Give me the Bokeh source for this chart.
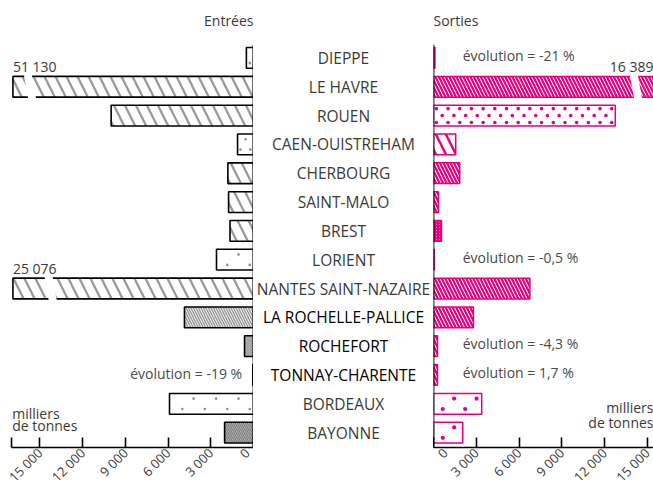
import math
from bokeh.plotting import figure
from bokeh.models import ColumnDataSource, Range1d, FixedTicker
from bokeh.layouts import row
from bokeh.embed import file_html
from bokeh.resources import INLINE
from bokeh.core.properties import value

# ---------------- data ----------------
ports = ["DIEPPE", "LE HAVRE", "ROUEN", "CAEN-OUISTREHAM", "CHERBOURG",
         "SAINT-MALO", "BREST", "LORIENT", "NANTES SAINT-NAZAIRE",
         "LA ROCHELLE-PALLICE", "ROCHEFORT", "TONNAY-CHARENTE",
         "BORDEAUX", "BAYONNE"]
entrees = [500, 51130, 10000, 1120, 1800, 1750, 1650, 2600, 25076,
           4850, 630, 50, 5900, 2030]
sorties = [100, 16389, 12750, 1560, 1840, 350, 560, 50, 6760,
           2800, 280, 280, 3380, 2050]
tick_values = [0, 3000, 6000, 9000, 12000, 15000]
tick_labels = ["0", "3 000", "6 000", "9 000", "12 000", "15 000"]
unit_lines = ["milliers", "de tonnes"]
notes_left = {"TONNAY-CHARENTE": "évolution = -19 %"}
notes_right = {"DIEPPE": "évolution = -21 %",
               "LORIENT": "évolution = -0,5 %",
               "ROCHEFORT": "évolution = -4,3 %",
               "TONNAY-CHARENTE": "évolution = 1,7 %"}
titles = ["Entrées", "Sorties"]
dark_ports = ["LA ROCHELLE-PALLICE", "ROCHEFORT", "TONNAY-CHARENTE"]

# ---------------- styles / layout ----------------
FONT = "Open Sans"
MAGENTA = "#e6007e"
GRAY = "#9a9a9a"
TEXT = "#3a3a3a"
LEFT_MAX = 17000
RIGHT_MAX = 15430
LEFT_DISPLAY_CAP = 16900
N = len(ports)
ys = [N - 1 - i for i in range(N)]
Y_START, Y_END = -0.516, 14.993
BAR_H = 0.72
H = 494
B_BOTTOM = 43

# hatch styles: fill, pattern, scale, weight, hatch colour
STY = {
    "g_wide": ("white", "left_diagonal_line", 22, 2.3, GRAY),
    "g_fine": ("white", "left_diagonal_line", 5, 1.5, GRAY),
    "g_vfine": ("#d8d8d8", "left_diagonal_line", 3, 1.0, "#8a8a8a"),
    "g_dark": ("#c4c4c4", "left_diagonal_line", 4, 1.3, "#808080"),
    "m_mid": ("white", "left_diagonal_line", 7, 2.2, MAGENTA),
    "m_wide": ("white", "left_diagonal_line", 20, 2.4, MAGENTA),
    "m_fine": ("white", "left_diagonal_line", 3, 1.4, MAGENTA),
    "plain": ("white", "blank", 10, 1, GRAY),
}
# dot fills: colour, dot size (px), step (data units), rows of (dy, first x)
DOTS = {
    "g_sparse": ("#8c8c8c", 2.6, 1580, [(0.18, 1050), (-0.18, 260)]),
    "g_mid": ("#8c8c8c", 2.6, 700, [(0.18, 560), (-0.18, 220)]),
    "m_dense": (MAGENTA, 3.6, 820, [(0.24, 200), (0.0, 610), (-0.24, 200)]),
    "m_sparse": (MAGENTA, 4.2, 1570, [(0.18, 1450), (-0.18, 650)]),
}
left_style = ["plain", "g_wide", "g_wide", "plain", "g_wide", "g_wide",
              "g_wide", "plain", "g_wide", "g_fine", "g_vfine", "g_wide",
              "plain", "g_dark"]
left_dots = {"DIEPPE": "g_sparse", "CAEN-OUISTREHAM": "g_mid",
             "LORIENT": "g_sparse", "BORDEAUX": "g_sparse"}
right_style = ["m_mid", "m_mid", "plain", "m_wide", "m_mid", "m_mid",
               "m_fine", "m_mid", "m_mid", "m_mid", "m_mid", "m_mid",
               "plain", "plain"]
right_dots = {"ROUEN": "m_dense", "BORDEAUX": "m_sparse",
              "BAYONNE": "m_sparse"}
# break marks (centre position in data units) for bars exceeding the axis
left_breaks = {"LE HAVRE": 15700, "NANTES SAINT-NAZAIRE": 14250}
right_breaks = {"LE HAVRE": 14200}
BREAK_HALF = 280
BREAK_SLANT = 150
DOT_MARGIN = 150


def fmt(v):
    return f"{v:,}".replace(",", " ")


def add_bars(p, vals, styles, cap, line_color, line_width):
    for key in dict.fromkeys(styles):
        idx = [i for i, s in enumerate(styles) if s == key]
        fill, pat, sc, wt, hc = STY[key]
        src = ColumnDataSource(dict(y=[ys[i] for i in idx],
                                    right=[min(vals[i], cap) for i in idx]))
        p.hbar(y="y", left=0, right="right", height=BAR_H, source=src,
               fill_color=fill, line_color=line_color, line_width=line_width,
               hatch_pattern=pat, hatch_scale=sc, hatch_weight=wt,
               hatch_color=hc)


def add_dots(p, vals, dot_map):
    for port, key in dot_map.items():
        color, size, step, rows = DOTS[key]
        i = ports.index(port)
        xs, yy = [], []
        for dy, x0 in rows:
            x = x0
            while x <= vals[i] - DOT_MARGIN:
                xs.append(x)
                yy.append(ys[i] + dy)
                x += step
        p.scatter(xs, yy, marker="circle", size=size, fill_color=color,
                  line_color=None)


def base_fig(width, xr, yr, mbl, mbr):
    p = figure(width=width, height=H, x_range=xr, y_range=yr,
               output_backend="svg", toolbar_location=None,
               min_border_left=mbl, min_border_right=mbr,
               min_border_top=0, min_border_bottom=B_BOTTOM,
               y_axis_location=None)
    p.outline_line_color = None
    p.xgrid.visible = False
    p.ygrid.visible = False
    p.background_fill_color = "white"
    p.border_fill_color = "white"
    return p


def style_axis(p, ticks, overrides, hidden=False):
    ax = p.xaxis[0]
    ax.ticker = FixedTicker(ticks=ticks)
    ax.major_label_overrides = overrides
    ax.major_label_orientation = math.pi / 4
    ax.major_tick_in = 10
    ax.major_tick_out = 0
    ax.minor_tick_line_color = None
    ax.axis_line_color = None if hidden else "black"
    ax.axis_line_width = 1.6
    ax.major_tick_line_color = None if hidden else "black"
    ax.major_tick_line_width = 1.6
    ax.major_label_text_font = FONT
    ax.major_label_text_font_size = "13px"
    ax.major_label_text_color = TEXT
    ax.major_label_text_alpha = 0 if hidden else 1
    ax.major_label_standoff = 3


def breaks_patches(breaks, direction):
    xs, ysl = [], []
    hh = BAR_H / 2 + 0.06
    for port, c in breaks.items():
        y = ys[ports.index(port)]
        s = BREAK_SLANT * direction
        xs.append([c - BREAK_HALF + s, c + BREAK_HALF + s,
                   c + BREAK_HALF - s, c - BREAK_HALF - s])
        ysl.append([y + hh, y + hh, y - hh, y - hh])
    return xs, ysl


def txt(p, x, y, t, align, baseline, size="14px", color=TEXT):
    p.text(x=x, y=y, text=t, text_align=align, text_baseline=baseline,
           text_font=value(FONT), text_font_size=size, text_color=color)


tick_map = {t: l for t, l in zip(tick_values, tick_labels)}
yr = Range1d(Y_START, Y_END)

# ---------------- left panel (Entrées) ----------------
left = base_fig(253, Range1d(LEFT_MAX, 0), yr, 11, 0)
add_bars(left, entrees, left_style, LEFT_DISPLAY_CAP, "black", 1.6)
add_dots(left, entrees, left_dots)
bx, by = breaks_patches(left_breaks, 1)
left.patches(bx, by, fill_color="white", line_color=None)
left.segment(x0=0, x1=0, y0=Y_START, y1=ys[0] + BAR_H / 2 + 0.1,
             line_color="black", line_width=1.8)
big_l = [(ys[i], fmt(v)) for i, v in enumerate(entrees) if v > LEFT_MAX]
txt(left, LEFT_DISPLAY_CAP, [b[0] + BAR_H / 2 + 0.02 for b in big_l],
    [b[1] for b in big_l], "left", "bottom")
nl = [(ys[ports.index(k)], t) for k, t in notes_left.items()]
txt(left, 800, [a[0] + 0.05 for a in nl], [a[1] for a in nl], "right",
    "middle", color="#4a4a4a")
txt(left, 0, [ys[0] + 0.96], [titles[0]], "right", "bottom")
txt(left, LEFT_MAX - 50, [0.68, 0.26], unit_lines, "left", "middle")
style_axis(left, tick_values + [LEFT_MAX], {**tick_map, LEFT_MAX: ""})

# ---------------- middle (port names) ----------------
mid = figure(width=180, height=H, x_range=Range1d(0, 15000), y_range=yr,
             output_backend="svg", toolbar_location=None,
             min_border_left=0, min_border_right=0, min_border_top=0,
             min_border_bottom=B_BOTTOM, y_axis_location=None)
mid.outline_line_color = None
mid.xgrid.visible = False
mid.ygrid.visible = False
style_axis(mid, tick_values, tick_map, hidden=True)
mid.text(x=7500, y=ys, text=ports, text_align="center", text_baseline="middle",
         text_font=value(FONT), text_font_size="15.5px",
         text_color=["#000000" if p in dark_ports else "#3a3a3a" for p in ports])

# ---------------- right panel (Sorties) ----------------
right = base_fig(220, Range1d(0, RIGHT_MAX), yr, 0, 0)
add_bars(right, sorties, right_style, RIGHT_MAX + 200, MAGENTA, 1.5)
add_dots(right, sorties, right_dots)
bx, by = breaks_patches(right_breaks, -1)
right.patches(bx, by, fill_color="white", line_color=None)
right.segment(x0=0, x1=0, y0=Y_START, y1=ys[0] + BAR_H / 2 + 0.1,
              line_color="black", line_width=1.8)
big_r = [(ys[i], fmt(v)) for i, v in enumerate(sorties) if v > RIGHT_MAX]
txt(right, RIGHT_MAX, [b[0] + BAR_H / 2 + 0.02 for b in big_r],
    [b[1] for b in big_r], "right", "bottom")
nr = [(ys[ports.index(k)], t) for k, t in notes_right.items()]
txt(right, 2050, [a[0] + 0.08 for a in nr], [a[1] for a in nr], "left",
    "middle", color="#4a4a4a")
txt(right, 0, [ys[0] + 0.96], [titles[1]], "left", "bottom")
txt(right, RIGHT_MAX, [0.86, 0.34], unit_lines, "right", "middle")
style_axis(right, tick_values, tick_map)

layout = row(left, mid, right)
open("out.html", "w").write(file_html(layout, INLINE))
